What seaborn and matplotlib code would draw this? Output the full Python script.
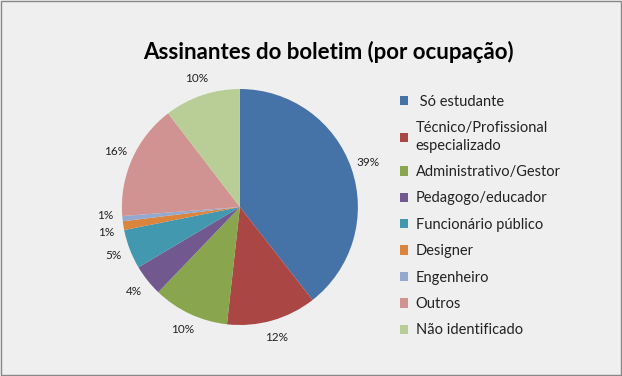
import matplotlib.pyplot as plt
import seaborn as sns

sns.set_theme(style="white")
plt.rcParams['font.family'] = ['Lato', 'DejaVu Sans']

# Data (percent of subscribers)
categories = [' Só estudante', 'Técnico/Profissional\nespecializado', 'Administrativo/Gestor',
              'Pedagogo/educador', 'Funcionário público', 'Designer', 'Engenheiro',
              'Outros', 'Não identificado']
values = [39.4, 12.3, 10.4, 4.3, 5.4, 1.2, 0.7, 15.8, 10.4]
colors = ['#4572A7', '#AA4643', '#89A54E', '#71588F', '#4198AF',
          '#DB843D', '#93A9CF', '#D19392', '#B9CD96']

bg = '#EFEFEF'
fig = plt.figure(figsize=(6.22, 3.76), dpi=100, facecolor=bg)
ax = fig.add_axes([0.196, 0.1356, 0.3794, 0.6277])
ax.set_facecolor(bg)

wedges, texts, autotexts = ax.pie(values, colors=colors, startangle=90, counterclock=False,
                                  autopct='%.0f%%', pctdistance=1.15,
                                  wedgeprops=dict(linewidth=0),
                                  textprops=dict(fontsize=8.5, color='#222222'))
# nudge the two tiny-slice labels apart a little
x, y = autotexts[5].get_position()
autotexts[5].set_position((x, y - 0.03))
x, y = autotexts[6].get_position()
autotexts[6].set_position((x, y + 0.04))

ax.set_xlim(-1, 1)
ax.set_ylim(-1, 1)
ax.axis('off')

fig.text(0.528, 0.862, 'Assinantes do boletim (por ocupação)', ha='center', va='center',
         fontsize=16, fontweight='bold', color='black')

leg = fig.legend(wedges, categories, loc='upper left', bbox_to_anchor=(0.633, 0.763),
                 frameon=False, fontsize=10.5, labelspacing=0.85, handlelength=0.6,
                 handleheight=0.6, handletextpad=0.5, borderaxespad=0)
for t in leg.get_texts():
    t.set_color('#222222')
    t.set_linespacing(1.3)

# thin frame around the chart area
fig.patches.append(plt.Rectangle((0.002, 0.003), 0.996, 0.994, transform=fig.transFigure,
                                 fill=False, edgecolor='#888888', linewidth=1))

plt.savefig('out.png', dpi=100, facecolor=bg)
